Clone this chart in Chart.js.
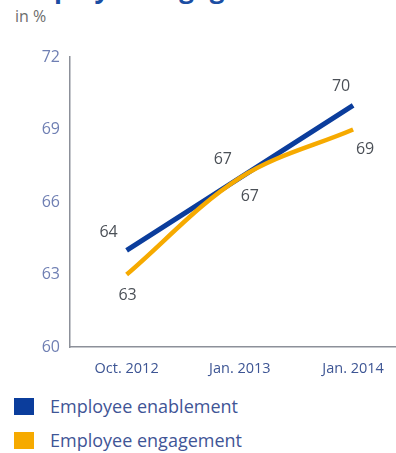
<!DOCTYPE html>
<html>
<head>
<meta charset="utf-8">
<script src="https://cdn.jsdelivr.net/npm/chart.js@4"></script>
<style>
  body { margin: 0; width: 396px; height: 453px; background: #fff; overflow: hidden; position: relative; font-family: "Open Sans", sans-serif; }
  #title { position: absolute; left: 14px; top: -30px; font-size: 26px; font-weight: 700; color: #1b4ea3; white-space: nowrap; }
  #unit { position: absolute; left: 15px; top: 5px; font-size: 16px; color: #6d6d6d; }
  #wrap { position: absolute; left: 0; top: 0; width: 396px; height: 380px; }
  .legend { position: absolute; left: 14px; font-size: 18px; color: #3f5596; display: flex; align-items: center; }
  .legend span.sw { display: inline-block; width: 20px; height: 17px; margin-right: 16px; }
</style>
</head>
<body>
<div id="title">Employee engagement and enablement</div>
<div id="unit">in %</div>
<div id="wrap"><canvas id="chart"></canvas></div>
<div class="legend" style="top:394px"><span class="sw" style="background:#0b3d9c"></span>Employee enablement</div>
<div class="legend" style="top:428px"><span class="sw" style="background:#f6aa00"></span>Employee engagement</div>
<script>
// ── Data ──────────────────────────────────────────────────────────────────────
const categories = ["Oct. 2012", "Jan. 2013", "Jan. 2014"];
const enablement = [64, 67, 70];
const engagement = [63, 67, 69];
const yTicks = [60, 63, 66, 69, 72];

// label offsets per series / point (dx, dy in px)
const enablementOffsets = [[-18, -18], [-17, -18], [-12, -19]];
const engagementOffsets = [[1, 21], [10, 19], [12, 20]];

const BLUE = "#0b3d9c";
const ORANGE = "#f6aa00";

function toPoints(values) {
    return values.map((v, i) => ({ x: i, y: v }));
}

// draws value labels next to each point
const valueLabels = {
    id: "valueLabels",
    afterDatasetsDraw(chart) {
        const ctx = chart.ctx;
        ctx.save();
        ctx.font = "16px 'Open Sans', sans-serif";
        ctx.fillStyle = "#4b5057";
        ctx.textAlign = "center";
        ctx.textBaseline = "middle";
        chart.data.datasets.forEach((ds, di) => {
            const meta = chart.getDatasetMeta(di);
            meta.data.forEach((pt, i) => {
                const [dx, dy] = ds.labelOffsets[i];
                ctx.fillText(String(ds.data[i].y), pt.x + dx, pt.y + dy);
            });
        });
        ctx.restore();
    }
};

new Chart(document.getElementById("chart"), {
    type: "line",
    data: {
        datasets: [
            {
                label: "Employee engagement",
                data: toPoints(engagement),
                borderColor: ORANGE,
                borderWidth: 4.5,
                tension: 0.35,
                pointRadius: 0,
                labelOffsets: engagementOffsets,
            },
            {
                label: "Employee enablement",
                data: toPoints(enablement),
                borderColor: BLUE,
                borderWidth: 5,
                tension: 0,
                pointRadius: 0,
                labelOffsets: enablementOffsets,
            },
        ]
    },
    options: {
        responsive: true,
        maintainAspectRatio: false,
        animation: false,
        layout: { padding: { top: 57, right: 1, left: 0, bottom: 0 } },
        plugins: { legend: { display: false }, tooltip: { enabled: false } },
        scales: {
            x: {
                type: "linear",
                min: -0.5,
                max: 2.37,
                afterBuildTicks: s => { s.ticks = categories.map((_, i) => ({ value: i })); },
                afterFit: s => { s.height = 33; },
                grid: { display: false },
                border: { color: "#8c9099", width: 1.5 },
                ticks: {
                    color: "#3d5594",
                    font: { family: "'Open Sans', sans-serif", size: 14.5 },
                    padding: 5,
                    maxRotation: 0,
                    callback: v => categories[v] ?? "",
                },
            },
            y: {
                min: 60,
                max: 72,
                afterBuildTicks: s => { s.ticks = yTicks.map(v => ({ value: v })); },
                afterFit: s => { s.width = 70; },
                grid: { display: false },
                border: { color: "#8c9099", width: 1.5 },
                ticks: {
                    color: "#6f7fb3",
                    font: { family: "'Open Sans', sans-serif", size: 16 },
                    padding: 2,
                },
            },
        },
    },
    plugins: [valueLabels],
});
</script>
</body>
</html>
